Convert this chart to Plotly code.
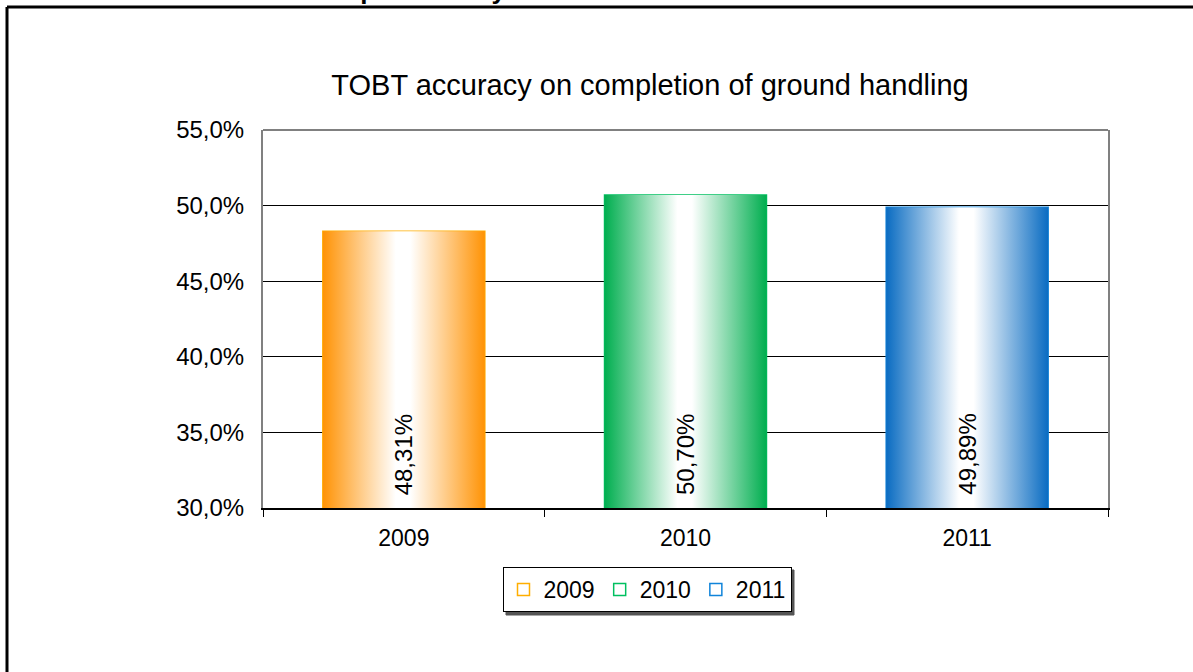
import plotly.graph_objects as go

# ---- data ----
years = ["2009", "2010", "2011"]
accuracy = [0.4831, 0.5070, 0.4989]
bar_colors = ["#FF9305", "#00AE4F", "#0A6CC2"]
edge_colors = ["#FFAE00", "#00C060", "#1084DA"]
y_ticks = [0.30, 0.35, 0.40, 0.45, 0.50, 0.55]
chart_title = "TOBT accuracy on completion of ground handling"
heading_number = "4.3"
heading_text = "Results of the past three years"

W, H = 1193, 672
ML, MR, MT, MB = 263, 85, 130, 164
PW, PH = W - ML - MR, H - MT - MB
FONT = "Liberation Sans, Arial, sans-serif"
BAR_W = 0.575
Y0, Y1 = 0.30, 0.55


def px_x(p):
    return (p - ML) / PW


def px_y(p):
    return (H - MB - p) / PH


fig = go.Figure()

# gradient fills for each bar (drawn from the data values)
for i, (yr, v, c) in enumerate(zip(years, accuracy, bar_colors)):
    xs = [i - BAR_W / 2, i + BAR_W / 2, i + BAR_W / 2, i - BAR_W / 2, i - BAR_W / 2]
    ys = [0, 0, v, v, 0]
    fig.add_trace(go.Scatter(
        x=xs, y=ys, mode="lines", fill="toself",
        line=dict(width=0, color=c),
        fillgradient=dict(type="horizontal",
                          colorscale=[[0, c], [0.45, "#FFFFFF"], [0.54, "#FFFFFF"], [1, c]]),
        showlegend=False, hoverinfo="skip",
    ))

# bars (outline + legend)
for i, (yr, v, c, e) in enumerate(zip(years, accuracy, bar_colors, edge_colors)):
    fig.add_trace(go.Bar(
        x=[i], y=[v], name=yr, width=BAR_W,
        marker=dict(color="rgba(255,255,255,0)", line=dict(color=e, width=1.5)),
        showlegend=True,
    ))
    fig.add_annotation(
        x=i, y=Y0, xref="x", yref="y",
        text=(f"{v * 100:.2f}".replace(".", ",") + "%"),
        textangle=-90, showarrow=False, yanchor="bottom", xanchor="center",
        yshift=11, font=dict(family=FONT, size=24, color="#000000"),
    )

shapes = [
    # top border of plot area
    dict(type="line", xref="paper", yref="paper", x0=0, x1=1, y0=1, y1=1,
         line=dict(color="#808080", width=2)),
    # outer frame: top and left edges (the rest lies beyond the page)
    dict(type="line", xref="paper", yref="paper",
         x0=px_x(7), x1=px_x(1193), y0=px_y(7), y1=px_y(7),
         line=dict(color="#000000", width=3), layer="below"),
    dict(type="line", xref="paper", yref="paper",
         x0=px_x(7), x1=px_x(7), y0=px_y(7), y1=px_y(672),
         line=dict(color="#000000", width=3), layer="below"),
    # legend shadow
    dict(type="rect", xref="paper", yref="paper",
         x0=px_x(506), x1=px_x(794), y0=px_y(570), y1=px_y(615),
         line=dict(color="#555555", width=1), fillcolor="#555555", layer="below"),
]

# page heading above the frame (mostly beyond the top of the page)
for txt, xpos in [(heading_number, 74), (heading_text, 179)]:
    fig.add_annotation(
        x=px_x(xpos), y=px_y(7), xref="paper", yref="paper", xanchor="left", yanchor="bottom",
        text="<b>" + txt + "</b>", showarrow=False,
        font=dict(family=FONT, size=26, color="#000000"),
    )

fig.update_layout(
    width=W, height=H,
    margin=dict(l=ML, r=MR, t=MT, b=MB),
    paper_bgcolor="#FFFFFF", plot_bgcolor="#FFFFFF",
    separators=",.",
    font=dict(family=FONT, size=22, color="#000000"),
    title=dict(text=chart_title, x=650 / W, xanchor="center", xref="container",
               y=1 - 85 / H, yanchor="middle", yref="container",
               font=dict(family=FONT, size=29, color="#000000")),
    barmode="overlay",
    showlegend=True,
    legend=dict(orientation="h", x=px_x(647), xanchor="center", y=px_y(567), yanchor="top",
                bgcolor="#FFFFFF", bordercolor="#000000", borderwidth=1,
                font=dict(family=FONT, size=23, color="#000000"),
                itemwidth=30, tracegroupgap=0),
    shapes=shapes,
    xaxis=dict(
        range=[-0.5, 2.5], tickmode="array", tickvals=[0, 1, 2], ticktext=years,
        showgrid=False, zeroline=False, showline=True, linecolor="#000000", linewidth=1.5,
        ticks="", ticklabelstandoff=9,
        minor=dict(tickmode="array", tickvals=[-0.5, 0.5, 1.5, 2.5], ticks="outside",
                   ticklen=7, tickcolor="#000000", tickwidth=1, showgrid=False),
        tickfont=dict(family=FONT, size=23, color="#000000"),
        fixedrange=True,
    ),
    yaxis=dict(
        range=[Y0, Y1], tickmode="array", tickvals=y_ticks, tickformat=".1%",
        showgrid=True, gridcolor="#000000", gridwidth=1, zeroline=False,
        showline=True, linecolor="#808080", linewidth=2, mirror=True,
        ticks="", ticklabelstandoff=12,
        tickfont=dict(family=FONT, size=24, color="#000000"),
        fixedrange=True,
    ),
)

fig.write_html(
    "out.html", config={"displayModeBar": False},
    post_script=("document.body.style.margin='0';"
                 "document.body.style.overflow='hidden';"
                 "document.documentElement.style.overflow='hidden';"),
)
